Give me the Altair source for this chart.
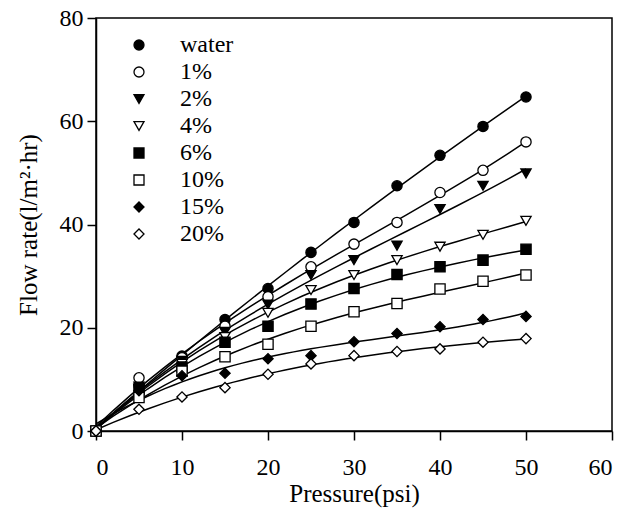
import altair as alt
import pandas as pd

pressure = [0, 5, 10, 15, 20, 25, 30, 35, 40, 45, 50]
series_names = ["water", "1%", "2%", "4%", "6%", "10%", "15%", "20%"]
water = [0, 8.8, 14.5, 21.6, 27.6, 34.6, 40.4, 47.5, 53.4, 59.0, 64.7]
p1 = [0, 10.3, 14.2, 20.3, 26.0, 31.8, 36.2, 40.4, 46.2, 50.5, 56.0]
p2 = [0, 8.6, 13.6, 19.2, 24.5, 30.2, 33.1, 35.9, 43.0, 47.5, 49.9]
p4 = [0, 8.2, 13.0, 18.2, 22.9, 27.3, 30.2, 33.1, 35.7, 38.0, 40.7]
p6 = [0, 8.0, 12.4, 17.2, 20.3, 24.6, 27.6, 30.3, 31.8, 33.1, 35.2]
p10 = [0, 6.5, 11.6, 14.4, 16.8, 20.3, 23.1, 24.7, 27.5, 29.0, 30.2]
p15 = [0, 7.8, 10.7, 11.2, 14.0, 14.6, 17.3, 18.9, 20.2, 21.6, 22.2]
p20 = [0, 4.2, 6.6, 8.4, 11.0, 13.0, 14.6, 15.4, 15.9, 17.2, 17.9]
x_ticks = [0, 10, 20, 30, 40, 50, 60]
y_ticks = [0, 20, 40, 60, 80]

shapes = ["circle", "circle", "triangle-down", "triangle-down",
          "square", "square", "diamond", "diamond"]
fills = ["black", "white", "black", "white", "black", "white", "black", "white"]
strokes = ["black"] * 8

rows = []
for name, vals in zip(series_names, [water, p1, p2, p4, p6, p10, p15, p20]):
    for x, y in zip(pressure, vals):
        rows.append({"series": name, "pressure": x, "flow": y})
df = pd.DataFrame(rows)

FONT = "Liberation Serif"

xenc = alt.X("pressure:Q", scale=alt.Scale(domain=[0, 60], nice=False),
             axis=alt.Axis(values=x_ticks, title="Pressure(psi)"))
yenc = alt.Y("flow:Q", scale=alt.Scale(domain=[0, 80], nice=False),
             axis=alt.Axis(values=y_ticks, title="Flow rate(l/m²·hr)"))

lines = alt.Chart(df).transform_regression(
    "pressure", "flow", groupby=["series"], method="poly", order=3, extent=[0, 50]
).mark_line(color="black", strokeWidth=1.5).encode(
    x=xenc, y=yenc, detail="series:N"
)

leg = alt.Legend(title=None, orient="none", legendX=31, legendY=15,
                 labelFont=FONT, labelFontSize=24, labelColor="black",
                 rowPadding=3, labelOffset=29,
                 symbolStrokeWidth=1.3, symbolSize=100, padding=0)

points = alt.Chart(df).mark_point(filled=True, size=105, strokeWidth=1.3,
                                  opacity=1).encode(
    x=xenc, y=yenc,
    shape=alt.Shape("series:N", scale=alt.Scale(domain=series_names, range=shapes), legend=leg),
    fill=alt.Fill("series:N", scale=alt.Scale(domain=series_names, range=fills), legend=leg),
    stroke=alt.Stroke("series:N", scale=alt.Scale(domain=series_names, range=strokes), legend=leg),
)

chart = alt.layer(lines, points).properties(
    width=516, height=413,
    autosize=alt.AutoSizeParams(type="none"),
    padding={"left": 96, "top": 18, "right": 15, "bottom": 79},
).configure_view(
    stroke="black", strokeWidth=1.5
).configure_axis(
    labelFont=FONT, titleFont=FONT, labelFontSize=24, titleFontSize=25,
    labelColor="black", titleColor="black", titleFontWeight="normal",
    domainColor="black", tickColor="black", domainWidth=1.5, tickWidth=1.5,
    grid=False, tickSize=9
).configure_axisX(
    labelPadding=15, titlePadding=2
).configure_axisY(
    labelPadding=4, titlePadding=18
)

chart.save("out.html", embed_options={"renderer": "svg", "actions": False})
